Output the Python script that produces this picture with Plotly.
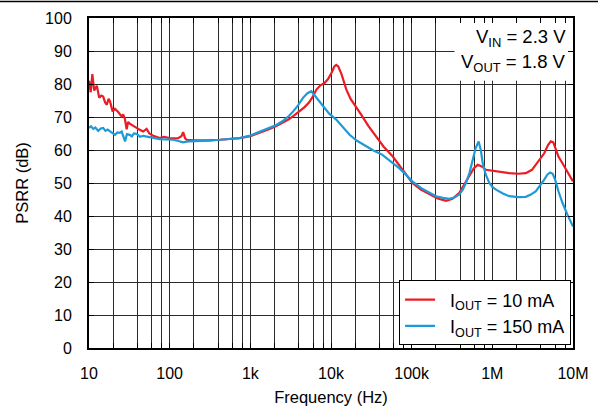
import plotly.graph_objects as go

# ---------------- data ----------------
freq_10mA = [10, 10.5, 11.0, 11.6, 12.5, 13.4, 14.2, 15, 15.8, 16.6, 17.5, 18.2, 19.6, 21, 23, 25.4,
             26.5, 27.8, 29.3, 30.5, 32, 35, 38.9, 42, 46.9, 51.8, 56, 62.5, 70, 75.6, 85, 100, 115,
             127, 140, 147, 155, 162, 200, 240, 300, 420, 550, 740, 1000, 1300, 1700, 2100, 2500,
             3000, 3500, 4100, 4700, 5300, 5900, 6600, 7400, 8300, 9200, 10200, 11000, 11600, 12300,
             13500, 15500, 17500, 20400, 24000, 29000, 36000, 45000, 58000, 75000, 102000, 130000,
             166000, 210000, 268000, 320000, 390000, 450000, 519000, 590000, 658000, 740000, 834000,
             1110000, 1620000, 2100000, 2600000, 3100000, 3470000, 4000000, 4400000, 4900000,
             5300000, 5700000, 6000000, 6600000, 7400000, 8500000, 10000000]
psrr_10mA = [81, 77.5, 83, 78, 79.5, 75.8, 76.5, 76.2, 74.5, 73.7, 75.5, 74.8, 71.7, 72.5, 71.5, 70.2,
             70.8, 69.5, 66.3, 68.5, 68, 67.3, 66.7, 66.2, 65.6, 66.4, 65, 64.3, 64, 63.6, 64, 63.6, 63.5,
             63.6, 64.2, 65.4, 63.6, 63.1, 62.9, 62.8, 62.9, 63.1, 63.3, 63.6, 64.2, 65.2, 66.3, 67.3, 68.2,
             69.3, 70.5, 71.7, 73, 74.3, 76, 78.3, 79.6, 80.3, 81.5, 83.5, 85.3, 85.8, 85.3,
             83, 78.3, 75.5, 73.2, 70.5, 67.3, 64.1, 61, 58.1, 54.5, 50, 48,
             46.5, 45.3, 44.6, 45.2, 47, 49.5, 52, 54.5, 55.5, 55, 54,
             53.5, 53, 52.8, 53, 54, 55.5, 57.5, 59, 61.5,
             62.6, 62.3, 60.6, 58, 56, 53.5, 50.5]

freq_150mA = [10, 10.6, 11.3, 12, 13, 14, 15, 16, 17, 18.2, 19.5, 21, 22.5, 24, 25.4, 27, 28, 29.5,
              32, 34, 36, 39, 43, 47, 52, 60, 75, 90, 110, 125, 147, 170, 237, 300, 420, 550, 740,
              1000, 1300, 1700, 2100, 2500, 3000, 3400, 3900, 4500, 5100, 5700, 6300, 7000, 7900,
              9500, 11600, 14000, 17000, 21000, 27000, 34000, 43000, 55000, 70000, 85000, 102000,
              130000, 166000, 200000, 245000, 290000, 340000, 390000, 430000, 470000, 520000, 572000,
              620000, 676000, 720000, 760000, 830000, 918000, 1000000, 1110000, 1350000, 1620000,
              2100000, 2600000, 3000000, 3470000, 4000000, 4400000, 4800000, 5200000, 5600000,
              6000000, 6600000, 7400000, 8500000, 10000000]
psrr_150mA = [66.7, 67.2, 66.4, 66.8, 65.8, 66.5, 66.7, 65.8, 66.2, 65.6, 65, 64.6, 65.3, 65.2, 65.6, 64, 62.6, 64.8,
              64.6, 64.1, 65, 64.9, 64, 64.3, 64.1, 63.6, 63.3, 63.2, 63.1, 62.8, 62.3, 62.6, 62.6, 62.8, 63.1, 63.3, 63.6,
              64.4, 65.5, 66.6, 67.6, 68.7, 70.3, 71.7, 73.5, 75.8, 77.2, 77.8, 76.5, 74.8, 73.2,
              71, 69.2, 66.8, 64.6, 62.8, 61.1, 59.8, 58.6, 56.5, 54.5, 52.5, 50.5,
              48.5, 47, 46, 45.5, 45.2, 45.6, 46.5, 48, 50, 53, 57,
              60.5, 62.6, 60, 56, 52.5, 50, 48.8, 48, 46.8, 46,
              45.7, 45.8, 46.5, 47.5, 49.5, 51, 52.5, 53.2, 52.8,
              51, 47.5, 44, 40.5, 36.8]

x_tickvals = [10, 100, 1e3, 1e4, 1e5, 1e6, 1e7]
x_ticktext = ["10", "100", "1k", "10k", "100k", "1M", "10M"]
x_minor = [m * 10 ** d for d in range(1, 7) for m in (2, 4, 6, 8)]
y_tickvals = list(range(0, 101, 10))

series_names = ["\u00a0\u00a0I<sub>OUT</sub> = 10 mA", "\u00a0\u00a0I<sub>OUT</sub> = 150 mA"]
series_colors = ["#EC1C24", "#1E9AD8"]
cond_lines = ["V<sub>IN</sub> = 2.3 V", "V<sub>OUT</sub> = 1.8 V"]

FONT = "Liberation Sans, Arial, Helvetica, sans-serif"
GRID = "#2a2a2a"

fig = go.Figure()
fig.add_trace(go.Scatter(x=freq_10mA, y=psrr_10mA, mode="lines", name=series_names[0],
                         line=dict(color=series_colors[0], width=2.2)))
fig.add_trace(go.Scatter(x=freq_150mA, y=psrr_150mA, mode="lines", name=series_names[1],
                         line=dict(color=series_colors[1], width=2.2)))

W, H = 598, 406
ml, mr, mt, mb = 89, 25, 18, 58
pw, ph = W - ml - mr, H - mt - mb

fig.update_layout(
    width=W, height=H,
    margin=dict(l=ml, r=mr, t=mt, b=mb, pad=0, autoexpand=False),
    paper_bgcolor="white", plot_bgcolor="white",
    font=dict(family=FONT, size=16, color="black"),
    showlegend=True,
    legend=dict(x=0.996, xanchor="right", y=0.008, yanchor="bottom",
                bgcolor="white", bordercolor="black", borderwidth=1,
                font=dict(family=FONT, size=18, color="black"),
                itemwidth=30, tracegroupgap=0),
)

fig.update_xaxes(
    type="log", range=[1, 7], automargin=False,
    tickmode="array", tickvals=x_tickvals, ticktext=x_ticktext,
    showgrid=True, gridcolor=GRID, gridwidth=1,
    ticks="inside", ticklen=5, tickcolor="black",
    showline=True, linecolor="black", linewidth=2, mirror="ticks",
    tickfont=dict(family=FONT, size=16, color="black"),
    ticklabelstandoff=10,
    minor=dict(tickmode="array", tickvals=x_minor, showgrid=True, gridcolor=GRID, gridwidth=1,
               ticks="inside", ticklen=5, tickcolor="black"),
    title=dict(text="Frequency (Hz)", font=dict(family=FONT, size=16.5, color="black"), standoff=10),
    zeroline=False,
)
fig.update_yaxes(
    range=[0, 100], tickmode="array", tickvals=y_tickvals, automargin=False,
    showgrid=True, gridcolor=GRID, gridwidth=1,
    ticks="inside", ticklen=5, tickcolor="black",
    showline=True, linecolor="black", linewidth=2, mirror="ticks",
    tickfont=dict(family=FONT, size=16, color="black"),
    ticklabelstandoff=12,
    title=dict(text="PSRR (dB)", font=dict(family=FONT, size=16.5, color="black"), standoff=12),
    zeroline=False,
)

# white box behind the conditions text (covers the grid)
fig.add_shape(type="rect", xref="x", yref="y", x0=3.4e5, x1=1e7, y0=81, y1=100,
              fillcolor="white", line=dict(width=0), layer="between")
for txt, ypx in zip(cond_lines, [38, 63]):
    fig.add_annotation(xref="paper", yref="paper", x=(568 - ml) / pw, y=(ph + mt - ypx) / ph,
                       xanchor="right", yanchor="middle",
                       text=txt, showarrow=False, align="right",
                       font=dict(family=FONT, size=18.5, color="black"))

# page rule along the top of the image
fig.add_shape(type="line", xref="paper", yref="paper",
              x0=-ml / pw, x1=(W - ml) / pw, y0=1 + (mt - 1.5) / ph, y1=1 + (mt - 1.5) / ph,
              line=dict(color="black", width=1.5))

fig.write_html("out.html")
